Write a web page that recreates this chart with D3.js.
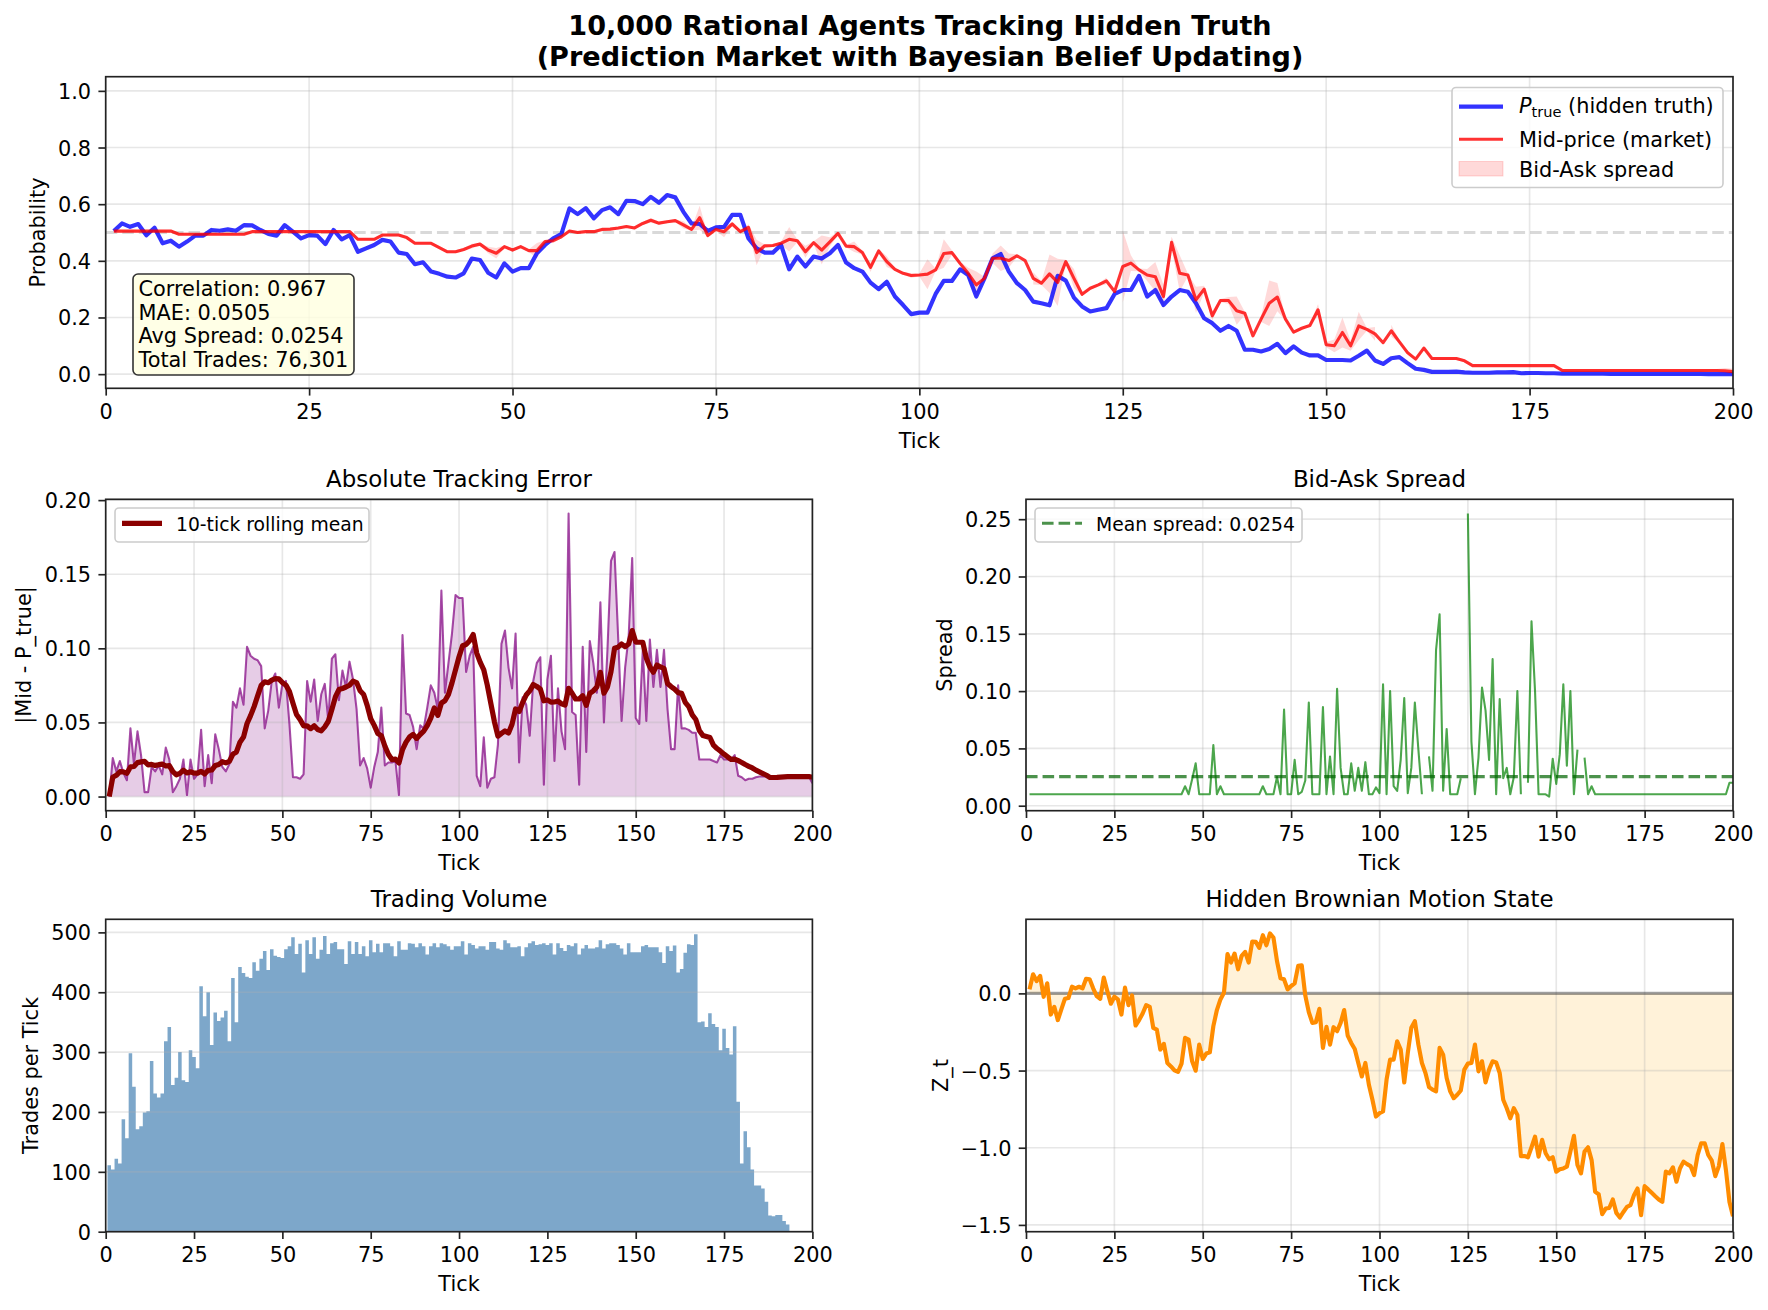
<!DOCTYPE html>
<html>
<head>
<meta charset="utf-8">
<script src="https://cdn.jsdelivr.net/npm/d3@7"></script>
<style>
  body { margin: 0; background: #fff; }
  svg { display: block; font-family: "DejaVu Sans", sans-serif; }
</style>
</head>
<body>
<svg id="chart" width="1768" height="1310"></svg>
<script>
// ---- data (ticks 1..200) ----
const ticks = d3.range(1, 201);

const pTrue = [
  0.505, 0.532, 0.52, 0.53, 0.49, 0.517, 0.462, 0.471, 0.45, 0.468,
  0.489, 0.489, 0.509, 0.506, 0.511, 0.506, 0.526, 0.525, 0.509, 0.495,
  0.489, 0.526, 0.503, 0.479, 0.491, 0.489, 0.459, 0.509, 0.476, 0.491,
  0.432, 0.444, 0.456, 0.474, 0.468, 0.429, 0.424, 0.388, 0.395, 0.362,
  0.354, 0.344, 0.341, 0.356, 0.408, 0.403, 0.358, 0.341, 0.391, 0.362,
  0.374, 0.374, 0.427, 0.456, 0.479, 0.494, 0.585, 0.565, 0.586, 0.55,
  0.579, 0.589, 0.565, 0.612, 0.611, 0.6, 0.626, 0.605, 0.632, 0.624,
  0.573, 0.532, 0.53, 0.506, 0.518, 0.52, 0.562, 0.562, 0.479, 0.444,
  0.429, 0.429, 0.456, 0.37, 0.415, 0.38, 0.415, 0.408, 0.427, 0.456,
  0.394, 0.374, 0.362, 0.323, 0.3, 0.326, 0.274, 0.244, 0.212, 0.217,
  0.217, 0.283, 0.329, 0.329, 0.37, 0.35, 0.274, 0.338, 0.409, 0.424,
  0.362, 0.321, 0.297, 0.256, 0.25, 0.243, 0.347, 0.33, 0.27, 0.239,
  0.221, 0.227, 0.233, 0.283, 0.297, 0.297, 0.347, 0.274, 0.297, 0.244,
  0.274, 0.297, 0.291, 0.25, 0.197, 0.18, 0.153, 0.17, 0.153, 0.086,
  0.086, 0.08, 0.089, 0.107, 0.074, 0.098, 0.076, 0.066, 0.066, 0.05,
  0.05, 0.05, 0.048, 0.065, 0.083, 0.048, 0.036, 0.056, 0.06, 0.039,
  0.019, 0.015, 0.008, 0.008, 0.008, 0.009, 0.006, 0.005, 0.005, 0.005,
  0.006, 0.006, 0.007, 0.003, 0.004, 0.004, 0.003, 0.003, 0.002, 0.002,
  0.002, 0.002, 0.002, 0.002, 0.001, 0.001, 0.001, 0.001, 0.001, 0.001,
  0.001, 0.001, 0.001, 0.001, 0.001, 0.001, 0.0, 0.0, 0.0, 0.0
];

const midPrice = [
  0.505, 0.505, 0.505, 0.505, 0.505, 0.505, 0.505, 0.505, 0.494, 0.494,
  0.494, 0.494, 0.494, 0.494, 0.494, 0.494, 0.494, 0.503, 0.503, 0.503,
  0.503, 0.503, 0.503, 0.503, 0.503, 0.503, 0.503, 0.503, 0.503, 0.503,
  0.476, 0.476, 0.476, 0.491, 0.491, 0.491, 0.482, 0.462, 0.462, 0.462,
  0.447, 0.432, 0.432, 0.44, 0.452, 0.459, 0.438, 0.427, 0.45, 0.438,
  0.45, 0.436, 0.436, 0.468, 0.471, 0.485, 0.505, 0.5, 0.503, 0.503,
  0.511, 0.512, 0.516, 0.521, 0.516, 0.532, 0.543, 0.533, 0.538, 0.542,
  0.527, 0.511, 0.552, 0.489, 0.511, 0.503, 0.53, 0.503, 0.518, 0.429,
  0.453, 0.454, 0.462, 0.476, 0.471, 0.432, 0.464, 0.438, 0.467, 0.497,
  0.452, 0.45, 0.429, 0.377, 0.435, 0.397, 0.37, 0.356, 0.348, 0.35,
  0.353, 0.368, 0.426, 0.429, 0.391, 0.356, 0.315, 0.338, 0.409, 0.409,
  0.401, 0.418, 0.401, 0.338, 0.321, 0.354, 0.324, 0.397, 0.338, 0.282,
  0.303, 0.315, 0.329, 0.292, 0.38, 0.392, 0.368, 0.35, 0.344, 0.274,
  0.465, 0.356, 0.35, 0.262, 0.3, 0.206, 0.26, 0.26, 0.224, 0.215,
  0.135, 0.194, 0.25, 0.272, 0.194, 0.148, 0.162, 0.172, 0.227, 0.104,
  0.1, 0.147, 0.1, 0.17, 0.158, 0.142, 0.111, 0.153, 0.114, 0.076,
  0.053, 0.092, 0.055, 0.055, 0.055, 0.055, 0.047, 0.03, 0.03, 0.03,
  0.03, 0.03, 0.03, 0.03, 0.03, 0.03, 0.03, 0.03, 0.013, 0.013,
  0.013, 0.013, 0.013, 0.013, 0.013, 0.013, 0.013, 0.013, 0.013, 0.013,
  0.013, 0.013, 0.013, 0.013, 0.013, 0.013, 0.013, 0.013, 0.012, 0.009
];

const spread = [
  0.01, 0.01, 0.01, 0.01, 0.01, 0.01, 0.01, 0.01, 0.01, 0.01,
  0.01, 0.01, 0.01, 0.01, 0.01, 0.01, 0.01, 0.01, 0.01, 0.01,
  0.01, 0.01, 0.01, 0.01, 0.01, 0.01, 0.01, 0.01, 0.01, 0.01,
  0.01, 0.01, 0.01, 0.01, 0.01, 0.01, 0.01, 0.01, 0.01, 0.01,
  0.01, 0.01, 0.01, 0.01, 0.017, 0.01, 0.023, 0.037, 0.01, 0.01,
  0.01, 0.01, 0.053, 0.01, 0.017, 0.01, 0.01, 0.01, 0.01, 0.01,
  0.01, 0.01, 0.01, 0.01, 0.01, 0.01, 0.017, 0.01, 0.01, 0.01,
  0.025, 0.01, 0.084, 0.01, 0.01, 0.04, 0.01, 0.012, 0.022, 0.09,
  0.01, 0.01, 0.01, 0.086, 0.01, 0.043, 0.01, 0.102, 0.033, 0.01,
  0.01, 0.037, 0.013, 0.033, 0.013, 0.038, 0.01, 0.01, 0.016, 0.011,
  0.106, 0.01, 0.1, 0.017, 0.013, 0.04, 0.094, 0.011, 0.033, 0.09,
  0.049, 0.01, null, 0.043, 0.013, 0.136, 0.167, 0.013, 0.067, 0.01,
  0.01, 0.01, 0.024, null, 0.255, 0.056, 0.01, 0.042, 0.103, 0.083,
  0.04, 0.128, 0.01, 0.093, 0.024, 0.033, 0.01, 0.025, 0.1, 0.01,
  null, 0.02, 0.161, 0.1, 0.01, 0.01, 0.01, 0.008, 0.041, 0.019,
  0.045, 0.106, 0.035, 0.1, 0.01, 0.049, null, 0.042, 0.01, 0.017,
  0.01, 0.01, 0.01, 0.01, 0.01, 0.01, 0.01, 0.01, 0.01, 0.01,
  0.01, 0.01, 0.01, 0.01, 0.01, 0.01, 0.01, 0.01, 0.01, 0.01,
  0.01, 0.01, 0.01, 0.01, 0.01, 0.01, 0.01, 0.01, 0.01, 0.01,
  0.01, 0.01, 0.01, 0.01, 0.01, 0.01, 0.01, 0.01, 0.02, 0.02
];

const absError = [
  0.0, 0.026, 0.017, 0.024, 0.016, 0.011, 0.046, 0.022, 0.044, 0.028,
  0.003, 0.003, 0.02, 0.017, 0.021, 0.015, 0.033, 0.025, 0.003, 0.007,
  0.012, 0.025, 0.001, 0.025, 0.012, 0.015, 0.045, 0.007, 0.028, 0.009,
  0.042, 0.032, 0.02, 0.017, 0.022, 0.064, 0.06, 0.073, 0.062, 0.101,
  0.095, 0.093, 0.092, 0.088, 0.046, 0.058, 0.078, 0.083, 0.06, 0.076,
  0.078, 0.049, 0.013, 0.013, 0.012, 0.015, 0.078, 0.064, 0.079, 0.051,
  0.069, 0.076, 0.051, 0.093, 0.096, 0.065, 0.085, 0.074, 0.091, 0.079,
  0.059, 0.021, 0.026, 0.019, 0.006, 0.02, 0.03, 0.06, 0.021, 0.023,
  0.023, 0.024, 0.001, 0.109, 0.056, 0.055, 0.047, 0.032, 0.048, 0.046,
  0.06, 0.075, 0.07, 0.059, 0.139, 0.07, 0.09, 0.11, 0.136, 0.134,
  0.134, 0.084, 0.095, 0.101, 0.014, 0.007, 0.04, 0.006, 0.012, 0.013,
  0.035, 0.103, 0.112, 0.087, 0.073, 0.11, 0.023, 0.067, 0.062, 0.041,
  0.078, 0.09, 0.094, 0.008, 0.079, 0.095, 0.024, 0.073, 0.044, 0.032,
  0.191, 0.057, 0.055, 0.008, 0.101, 0.03, 0.105, 0.09, 0.07, 0.131,
  0.05, 0.099, 0.159, 0.165, 0.109, 0.051, 0.087, 0.108, 0.161, 0.053,
  0.049, 0.099, 0.051, 0.106, 0.074, 0.099, 0.074, 0.099, 0.059, 0.032,
  0.032, 0.075, 0.046, 0.046, 0.045, 0.043, 0.043, 0.025, 0.025, 0.025,
  0.025, 0.024, 0.023, 0.028, 0.025, 0.025, 0.025, 0.028, 0.014, 0.013,
  0.011, 0.012, 0.012, 0.013, 0.0135, 0.0135, 0.0135, 0.0135, 0.0135, 0.0135,
  0.0135, 0.0135, 0.0135, 0.0135, 0.0135, 0.0135, 0.0135, 0.0135, 0.0135, 0.009
];

const volume = [
  111, 104, 122, 114, 188, 156, 298, 242, 171, 176,
  199, 201, 285, 231, 224, 231, 318, 342, 245, 257,
  300, 253, 250, 303, 292, 273, 410, 360, 400, 312,
  366, 352, 358, 369, 318, 424, 350, 442, 432, 426,
  424, 450, 436, 456, 469, 437, 472, 461, 459, 457,
  472, 477, 492, 464, 481, 433, 487, 464, 492, 456,
  471, 494, 464, 482, 484, 472, 472, 447, 485, 464,
  484, 464, 477, 460, 487, 467, 481, 467, 482, 482,
  477, 460, 485, 471, 471, 482, 481, 475, 482, 477,
  463, 477, 482, 475, 482, 480, 477, 471, 477, 477,
  485, 463, 482, 479, 473, 477, 477, 471, 484, 484,
  473, 471, 487, 482, 475, 475, 477, 460, 475, 482,
  485, 479, 480, 482, 479, 482, 463, 482, 474, 469,
  479, 477, 482, 463, 473, 479, 473, 473, 475, 487,
  473, 480, 482, 482, 479, 473, 463, 482, 467, 467,
  467, 477, 479, 475, 475, 475, 467, 449, 477, 469,
  478, 433, 439, 466, 480, 479, 497, 350, 351, 342,
  365, 347, 342, 303, 339, 307, 296, 343, 217, 114,
  168, 141, 104, 77, 77, 72, 50, 27, 26, 28,
  28, 18, 12, 0, 0, 0, 0, 0, 0, 0
];

const zState = [
  0.026, 0.124, 0.08, 0.113, -0.022, 0.065, -0.137, -0.087, -0.173, -0.104,
  -0.035, -0.03, 0.043, 0.033, 0.043, 0.033, 0.095, 0.091, 0.033, -0.017,
  -0.035, 0.102, 0.015, -0.067, -0.022, -0.039, -0.137, 0.037, -0.076, -0.013,
  -0.208, -0.173, -0.13, -0.076, -0.087, -0.223, -0.234, -0.364, -0.327, -0.451,
  -0.473, -0.499, -0.509, -0.455, -0.288, -0.299, -0.44, -0.501, -0.332, -0.425,
  -0.39, -0.382, -0.212, -0.108, -0.039, 0.004, 0.254, 0.2, 0.258, 0.156,
  0.243, 0.269, 0.2, 0.336, 0.334, 0.295, 0.377, 0.312, 0.388, 0.362,
  0.21, 0.098, 0.091, 0.026, 0.048, 0.065, 0.178, 0.182, -0.013, -0.121,
  -0.191, -0.186, -0.1, -0.353, -0.217, -0.332, -0.219, -0.245, -0.191, -0.108,
  -0.273, -0.321, -0.36, -0.451, -0.538, -0.451, -0.592, -0.689, -0.798, -0.776,
  -0.765, -0.559, -0.429, -0.429, -0.31, -0.364, -0.577, -0.386, -0.223, -0.18,
  -0.332, -0.451, -0.516, -0.607, -0.624, -0.635, -0.353, -0.397, -0.548, -0.635,
  -0.679, -0.657, -0.629, -0.494, -0.455, -0.451, -0.332, -0.505, -0.44, -0.577,
  -0.494, -0.44, -0.447, -0.516, -0.689, -0.744, -0.809, -0.744, -0.787, -1.054,
  -1.054, -1.062, -0.997, -0.928, -1.058, -0.949, -1.036, -1.075, -1.062, -1.155,
  -1.14, -1.134, -1.123, -1.025, -0.923, -1.112, -1.166, -1.025, -0.997, -1.08,
  -1.286, -1.301, -1.431, -1.394, -1.39, -1.335, -1.422, -1.452, -1.416, -1.383,
  -1.372, -1.307, -1.264, -1.437, -1.249, -1.27, -1.292, -1.314, -1.335, -1.351,
  -1.155, -1.166, -1.127, -1.22, -1.134, -1.09, -1.106, -1.119, -1.177, -1.047,
  -0.971, -0.971, -1.047, -1.084, -1.184, -1.119, -0.976, -1.145, -1.351, -1.444
];

const meanSpread = 0.0254;
const statsLines = ["Correlation: 0.967", "MAE: 0.0505", "Avg Spread: 0.0254", "Total Trades: 76,301"];
const titleLines = ["10,000 Rational Agents Tracking Hidden Truth", "(Prediction Market with Bayesian Belief Updating)"];

const xTickValues = [0, 25, 50, 75, 100, 125, 150, 175, 200];
const probTicks = [0, 0.2, 0.4, 0.6, 0.8, 1.0];
const errTicks = [0, 0.05, 0.1, 0.15, 0.2];
const spreadTicks = [0, 0.05, 0.1, 0.15, 0.2, 0.25];
const volTicks = [0, 100, 200, 300, 400, 500];
const zTicks = [-1.5, -1.0, -0.5, 0.0];

// ---- layout ----
const PT = 150 / 72;
const TICK_FS = 10 * PT, LABEL_FS = 10 * PT, TITLE_FS = 11 * PT, SUP_FS = 13 * PT;
const LEG_FS = 10 * PT, LEG_SMALL_FS = 9 * PT;
const TICK_LEN = 3.5 * PT, TICK_PAD = 3.5 * PT;
const SPINE = "#222";

const svg = d3.select("#chart");
svg.append("rect").attr("width", 1768).attr("height", 1310).attr("fill", "#fff");

const boxes = {
  top:  { left: 105.7, right: 1733, top: 76.7,  bottom: 388.3 },
  midL: { left: 105.7, right: 812.4, top: 499.3, bottom: 810.7 },
  midR: { left: 1026,  right: 1733, top: 499.3, bottom: 810.7 },
  botL: { left: 105.7, right: 812.4, top: 919.3, bottom: 1231.7 },
  botR: { left: 1026,  right: 1733, top: 919.3, bottom: 1231.7 }
};

// matplotlib-like 5% data margins
function padded(values) {
  const [lo, hi] = d3.extent(values.filter(v => v != null));
  const m = (hi - lo) * 0.05;
  return [lo - m, hi + m];
}

let clipN = 0;
function makeAxes(box, yDomain, yTicks, gridX = true) {
  const x = d3.scaleLinear().domain([0, 200]).range([box.left, box.right]);
  const y = d3.scaleLinear().domain(yDomain).range([box.bottom, box.top]);
  const id = "clip" + clipN++;
  svg.append("clipPath").attr("id", id).append("rect")
    .attr("x", box.left).attr("y", box.top)
    .attr("width", box.right - box.left).attr("height", box.bottom - box.top);
  const under = svg.append("g").attr("clip-path", `url(#${id})`);
  const grid = svg.append("g").attr("stroke", "#b0b0b0").attr("stroke-opacity", 0.3).attr("stroke-width", 0.8 * PT);
  if (gridX) {
    grid.selectAll(null).data(xTickValues).join("line")
      .attr("x1", d => x(d)).attr("x2", d => x(d))
      .attr("y1", box.top).attr("y2", box.bottom);
  }
  grid.selectAll(null).data(yTicks).join("line")
    .attr("x1", box.left).attr("x2", box.right)
    .attr("y1", d => y(d)).attr("y2", d => y(d));
  const plot = svg.append("g").attr("clip-path", `url(#${id})`);
  return { x, y, box, under, grid, plot, yTicks };
}

function styleAxis(g, dy) {
  g.attr("font-family", null).attr("font-size", TICK_FS);
  g.select(".domain").remove();
  g.selectAll(".tick line").attr("stroke", SPINE).attr("stroke-width", 0.8 * PT);
  g.selectAll(".tick text").attr("fill", "#000").attr("dy", dy);
}

function finishAxes(ax, yFormat, title, ylabel) {
  const b = ax.box;
  const gx = svg.append("g").attr("transform", `translate(0,${b.bottom})`)
    .call(d3.axisBottom(ax.x).tickValues(xTickValues).tickFormat(d3.format("d"))
      .tickSize(TICK_LEN).tickPadding(TICK_PAD).tickSizeOuter(0));
  styleAxis(gx, "0.76em");
  const gy = svg.append("g").attr("transform", `translate(${b.left},0)`)
    .call(d3.axisLeft(ax.y).tickValues(ax.yTicks).tickFormat(yFormat)
      .tickSize(TICK_LEN).tickPadding(TICK_PAD).tickSizeOuter(0));
  styleAxis(gy, "0.36em");
  svg.append("rect")
    .attr("x", b.left).attr("y", b.top)
    .attr("width", b.right - b.left).attr("height", b.bottom - b.top)
    .attr("fill", "none").attr("stroke", SPINE).attr("stroke-width", 0.8 * PT);

  const cx = (b.left + b.right) / 2;
  if (title) {
    svg.append("text").attr("x", cx).attr("y", b.top - 6 * PT)
      .attr("text-anchor", "middle").attr("font-size", TITLE_FS).text(title);
  }
  svg.append("text").attr("x", cx).attr("y", b.bottom + 59.5)
    .attr("text-anchor", "middle").attr("font-size", LABEL_FS).text("Tick");
  const bb = gy.node().getBBox();
  const xl = b.left + bb.x - 4 * PT - 5;
  svg.append("text")
    .attr("transform", `translate(${xl},${(b.top + b.bottom) / 2}) rotate(-90)`)
    .attr("text-anchor", "middle").attr("font-size", LABEL_FS).text(ylabel);
}

const rows = ticks.map((t, i) => ({
  t, p: pTrue[i], mid: midPrice[i], s: spread[i], err: absError[i], vol: volume[i], z: zState[i]
}));

// ---- suptitle ----
svg.append("g").selectAll("text").data(titleLines).join("text")
  .attr("x", 920).attr("y", (d, i) => i === 0 ? 35 : 66)
  .attr("text-anchor", "middle").attr("font-size", SUP_FS).attr("font-weight", "bold")
  .text(d => d);

// ---- top: probability ----
{
  const ax = makeAxes(boxes.top, [-0.05, 1.05], probTicks);
  const { x, y } = ax;
  ax.under.append("path").datum(rows)
    .attr("fill", "red").attr("fill-opacity", 0.15)
    .attr("d", d3.area().defined(d => d.s != null)
      .x(d => x(d.t)).y0(d => y(d.mid - d.s / 2)).y1(d => y(d.mid + d.s / 2)));
  ax.plot.append("line")
    .attr("x1", x(0)).attr("x2", x(200)).attr("y1", y(0.5)).attr("y2", y(0.5))
    .attr("stroke", "gray").attr("stroke-opacity", 0.3).attr("stroke-width", 1.5 * PT)
    .attr("stroke-dasharray", `${5.55 * PT},${2.4 * PT}`);
  ax.plot.append("path").datum(rows)
    .attr("fill", "none").attr("stroke", "blue").attr("stroke-opacity", 0.8)
    .attr("stroke-width", 2 * PT).attr("stroke-linejoin", "round")
    .attr("d", d3.line().x(d => x(d.t)).y(d => y(d.p)));
  ax.plot.append("path").datum(rows)
    .attr("fill", "none").attr("stroke", "red").attr("stroke-opacity", 0.8)
    .attr("stroke-width", 1.5 * PT).attr("stroke-linejoin", "round")
    .attr("d", d3.line().x(d => x(d.t)).y(d => y(d.mid)));
  finishAxes(ax, d3.format(".1f"), null, "Probability");

  // stats box
  const sb = svg.append("g");
  sb.append("rect").attr("x", 133).attr("y", 274).attr("width", 221).attr("height", 101).attr("rx", 5)
    .attr("fill", "#ffffe0").attr("fill-opacity", 0.8).attr("stroke", "#333").attr("stroke-width", 1.6);
  sb.selectAll("text").data(statsLines).join("text")
    .attr("x", 138.5).attr("y", (d, i) => 296 + i * 23.5)
    .attr("font-size", LEG_FS).text(d => d);

  // legend
  const lg = svg.append("g");
  lg.append("rect").attr("x", 1452).attr("y", 87.5).attr("width", 271).attr("height", 100).attr("rx", 4)
    .attr("fill", "#fff").attr("fill-opacity", 0.8).attr("stroke", "#ccc").attr("stroke-width", 1.6);
  lg.append("line").attr("x1", 1459).attr("x2", 1503).attr("y1", 106.7).attr("y2", 106.7)
    .attr("stroke", "blue").attr("stroke-opacity", 0.8).attr("stroke-width", 2 * PT);
  lg.append("line").attr("x1", 1459).attr("x2", 1503).attr("y1", 139.3).attr("y2", 139.3)
    .attr("stroke", "red").attr("stroke-opacity", 0.8).attr("stroke-width", 1.5 * PT);
  lg.append("rect").attr("x", 1459).attr("y", 161.5).attr("width", 44).attr("height", 14.5)
    .attr("fill", "red").attr("fill-opacity", 0.15).attr("stroke", "red").attr("stroke-opacity", 0.15);
  const t1 = lg.append("text").attr("x", 1519).attr("y", 113).attr("font-size", LEG_FS);
  t1.append("tspan").attr("font-style", "italic").text("P");
  t1.append("tspan").attr("font-size", LEG_FS * 0.7).attr("dy", 4).text("true");
  t1.append("tspan").attr("dy", -4).text(" (hidden truth)");
  lg.append("text").attr("x", 1519).attr("y", 146.5).attr("font-size", LEG_FS).text("Mid-price (market)");
  lg.append("text").attr("x", 1519).attr("y", 176.7).attr("font-size", LEG_FS).text("Bid-Ask spread");
}

// ---- middle left: absolute tracking error ----
{
  const ax = makeAxes(boxes.midL, padded(absError), errTicks);
  const { x, y } = ax;
  const rolling = absError.map((_, i) => d3.mean(absError.slice(Math.max(0, i - 9), i + 1)));
  ax.under.append("path").datum(rows)
    .attr("fill", "purple").attr("fill-opacity", 0.2)
    .attr("d", d3.area().x(d => x(d.t)).y0(y(0)).y1(d => y(d.err)));
  ax.plot.append("path").datum(rows)
    .attr("fill", "none").attr("stroke", "purple").attr("stroke-opacity", 0.7)
    .attr("stroke-width", 1 * PT).attr("stroke-linejoin", "round")
    .attr("d", d3.line().x(d => x(d.t)).y(d => y(d.err)));
  ax.plot.append("path").datum(rolling)
    .attr("fill", "none").attr("stroke", "darkred")
    .attr("stroke-width", 2.5 * PT).attr("stroke-linejoin", "round")
    .attr("d", d3.line().x((d, i) => x(ticks[i])).y(d => y(d)));
  finishAxes(ax, d3.format(".2f"), "Absolute Tracking Error", "|Mid - P_true|");

  const lg = svg.append("g");
  lg.append("rect").attr("x", 115).attr("y", 508).attr("width", 254).attr("height", 34).attr("rx", 4)
    .attr("fill", "#fff").attr("fill-opacity", 0.8).attr("stroke", "#ccc").attr("stroke-width", 1.6);
  lg.append("line").attr("x1", 122).attr("x2", 162).attr("y1", 523.3).attr("y2", 523.3)
    .attr("stroke", "darkred").attr("stroke-width", 2.5 * PT);
  lg.append("text").attr("x", 176).attr("y", 530.5).attr("font-size", LEG_SMALL_FS).text("10-tick rolling mean");
}

// ---- middle right: bid-ask spread ----
{
  const ax = makeAxes(boxes.midR, padded(spread), spreadTicks);
  const { x, y } = ax;
  ax.plot.append("path").datum(rows)
    .attr("fill", "none").attr("stroke", "green").attr("stroke-opacity", 0.7)
    .attr("stroke-width", 1 * PT).attr("stroke-linejoin", "round")
    .attr("d", d3.line().defined(d => d.s != null).x(d => x(d.t)).y(d => y(d.s)));
  ax.plot.append("line")
    .attr("x1", x(0)).attr("x2", x(200)).attr("y1", y(meanSpread)).attr("y2", y(meanSpread))
    .attr("stroke", "darkgreen").attr("stroke-opacity", 0.7).attr("stroke-width", 1.5 * PT)
    .attr("stroke-dasharray", `${5.55 * PT},${2.4 * PT}`);
  finishAxes(ax, d3.format(".2f"), "Bid-Ask Spread", "Spread");

  const lg = svg.append("g");
  lg.append("rect").attr("x", 1035).attr("y", 508).attr("width", 267).attr("height", 34).attr("rx", 4)
    .attr("fill", "#fff").attr("fill-opacity", 0.8).attr("stroke", "#ccc").attr("stroke-width", 1.6);
  lg.append("line").attr("x1", 1042).attr("x2", 1082).attr("y1", 523.3).attr("y2", 523.3)
    .attr("stroke", "darkgreen").attr("stroke-opacity", 0.7).attr("stroke-width", 1.5 * PT)
    .attr("stroke-dasharray", `${5.55 * PT},${2.4 * PT}`);
  lg.append("text").attr("x", 1096).attr("y", 530.5).attr("font-size", LEG_SMALL_FS)
    .text("Mean spread: " + d3.format(".4f")(meanSpread));
}

// ---- bottom left: trading volume ----
{
  const ax = makeAxes(boxes.botL, [0, d3.max(volume) * 1.05], volTicks, false);
  const { x, y } = ax;
  // all bars in one path so neighbouring edges don't leave seams
  const barPath = d3.path();
  rows.forEach(d => {
    if (d.vol > 0) barPath.rect(x(d.t - 0.5), y(d.vol), x(d.t + 0.5) - x(d.t - 0.5), y(0) - y(d.vol));
  });
  ax.under.append("path").attr("d", barPath.toString())
    .attr("fill", "steelblue").attr("fill-opacity", 0.7);
  finishAxes(ax, d3.format("d"), "Trading Volume", "Trades per Tick");
}

// ---- bottom right: hidden brownian motion ----
{
  const ax = makeAxes(boxes.botR, padded(zState), zTicks);
  const { x, y } = ax;
  ax.under.append("path").datum(rows)
    .attr("fill", "orange").attr("fill-opacity", 0.15)
    .attr("d", d3.area().x(d => x(d.t)).y0(y(0)).y1(d => y(d.z)));
  ax.plot.append("line")
    .attr("x1", x(0)).attr("x2", x(200)).attr("y1", y(0)).attr("y2", y(0))
    .attr("stroke", "black").attr("stroke-opacity", 0.35).attr("stroke-width", 1.5 * PT);
  ax.plot.append("path").datum(rows)
    .attr("fill", "none").attr("stroke", "darkorange")
    .attr("stroke-width", 2 * PT).attr("stroke-linejoin", "round")
    .attr("d", d3.line().x(d => x(d.t)).y(d => y(d.z)));
  finishAxes(ax, d3.format(".1f"), "Hidden Brownian Motion State", "Z_t");
}
</script>
</body>
</html>
